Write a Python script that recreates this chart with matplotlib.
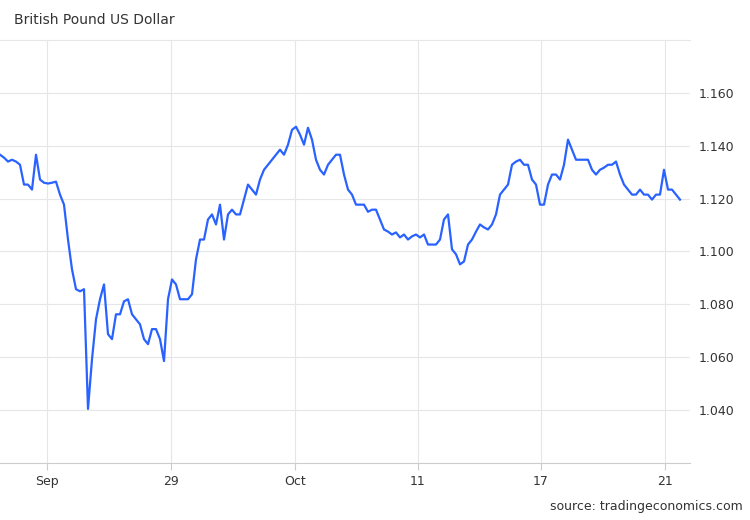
import matplotlib
matplotlib.use("Agg")
import matplotlib.pyplot as plt

# GBP/USD, one point roughly every few hours
values = [
    1.1366, 1.1355, 1.1340, 1.1347, 1.1340, 1.1328, 1.1253, 1.1253, 1.1234, 1.1366,
    1.1272, 1.1260, 1.1257, 1.1260, 1.1264, 1.1215, 1.1177, 1.1045, 1.0932, 1.0857,
    1.0849, 1.0857, 1.0404, 1.0592, 1.0743, 1.0819, 1.0875, 1.0687, 1.0668, 1.0762,
    1.0762, 1.0811, 1.0819, 1.0762, 1.0743, 1.0724, 1.0668, 1.0649, 1.0706, 1.0706,
    1.0668, 1.0585, 1.0819, 1.0894, 1.0875, 1.0819, 1.0819, 1.0819, 1.0838, 1.0970,
    1.1045, 1.1045, 1.1121, 1.1140, 1.1102, 1.1177, 1.1045, 1.1140, 1.1158, 1.1140,
    1.1140, 1.1196, 1.1253, 1.1234, 1.1215, 1.1272, 1.1309, 1.1328, 1.1347, 1.1366,
    1.1385, 1.1366, 1.1404, 1.1460, 1.1472, 1.1442, 1.1404, 1.1468, 1.1423, 1.1347,
    1.1309, 1.1291, 1.1328, 1.1347, 1.1366, 1.1366, 1.1291, 1.1234, 1.1215, 1.1177,
    1.1177, 1.1177, 1.1150, 1.1158, 1.1158, 1.1121, 1.1083, 1.1075, 1.1064, 1.1072,
    1.1053, 1.1064, 1.1045, 1.1057, 1.1064, 1.1053, 1.1064, 1.1026, 1.1026, 1.1026,
    1.1045, 1.1121, 1.1140, 1.1008, 1.0989, 1.0951, 1.0962, 1.1026, 1.1045, 1.1075,
    1.1102, 1.1091, 1.1083, 1.1102, 1.1140, 1.1215, 1.1234, 1.1253, 1.1328, 1.1340,
    1.1347, 1.1328, 1.1328, 1.1272, 1.1253, 1.1177, 1.1177, 1.1253, 1.1291, 1.1291,
    1.1272, 1.1328, 1.1423, 1.1385, 1.1347, 1.1347, 1.1347, 1.1347, 1.1309, 1.1291,
    1.1309, 1.1317, 1.1328, 1.1328, 1.1340, 1.1291, 1.1253, 1.1234, 1.1215, 1.1215,
    1.1234, 1.1215, 1.1215, 1.1196, 1.1215, 1.1215, 1.1309, 1.1234, 1.1234, 1.1215,
    1.1196,
]
tick_pos = [11.75, 42.75, 73.75, 104.5, 135.25, 166.25]
tick_labels = ["Sep", "29", "Oct", "11", "17", "21"]
y_ticks = [1.04, 1.06, 1.08, 1.10, 1.12, 1.14, 1.16]

fig = plt.figure(figsize=(7.5, 5.2), dpi=100)
ax = fig.add_axes([0.0, 0.110, 0.92, 0.813])
ax.plot(range(len(values)), values, color="#2962ff", linewidth=1.6)

ax.set_xlim(0, 172.5)
ax.set_ylim(1.02, 1.18)
ax.set_xticks(tick_pos)
ax.set_xticklabels(tick_labels)
ax.set_yticks(y_ticks)
ax.set_yticklabels([f"{t:.3f}" for t in y_ticks])
ax.yaxis.tick_right()
ax.tick_params(axis="both", length=0, labelsize=9, colors="#333333", pad=6)
ax.tick_params(axis="x", length=5, color="#cccccc", pad=4)
ax.grid(True, color="#e6e6e6", linewidth=0.8)
for s in ["left", "right"]:
    ax.spines[s].set_visible(False)
ax.spines["top"].set_color("#e6e6e6")
ax.spines["bottom"].set_color("#cccccc")

fig.text(0.019, 0.962, "British Pound US Dollar", fontsize=10, color="#333333", va="center")
fig.text(0.99, 0.02, "source: tradingeconomics.com", fontsize=9, color="#333333", ha="right")

fig.savefig("out.png", dpi=100)
